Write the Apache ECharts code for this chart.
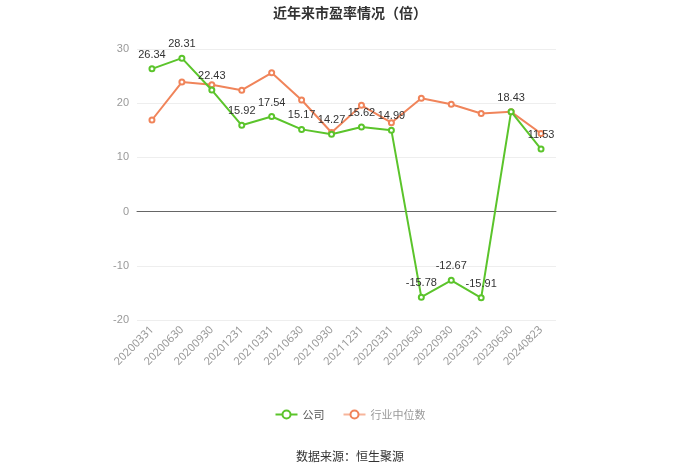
<!DOCTYPE html>
<html><head><meta charset="utf-8">
<script src="https://cdn.jsdelivr.net/npm/echarts@6/dist/echarts.min.js"></script>
<style>html,body{margin:0;padding:0;background:#fff}#c{width:700px;height:474px}</style>
</head><body><div id="c"></div>
<script>
var categories = ['20200331','20200630','20200930','20201231','20210331','20210630','20210930','20211231','20220331','20220630','20220930','20230331','20230630','20240823'];
var companyValues = [26.34,28.31,22.43,15.92,17.54,15.17,14.27,15.62,14.99,-15.78,-12.67,-15.91,18.43,11.53];
var industryValues = [16.9,23.9,23.4,22.4,25.6,20.6,14.6,19.6,16.4,20.9,19.8,18.1,18.4,14.4];
var yTicks = {min:-20, max:30, interval:10};

var chart = echarts.init(document.getElementById('c'));
chart.setOption({
  backgroundColor:'#fff',
  title:{text:'近年来市盈率情况（倍）', left:'center', top:1, textStyle:{fontSize:14, fontWeight:'bold', color:'#333', fontFamily:'Noto Sans CJK SC'}},
  grid:{left:137, right:144, top:49, bottom:154},
  legend:{bottom:49, left:'center', itemWidth:22, itemHeight:10, itemGap:18, textStyle:{fontSize:11, color:'#666', fontFamily:'Noto Sans CJK SC'},
    data:[{name:'公司', textStyle:{color:'#555'}},{name:'行业中位数', itemStyle:{borderColor:'#f7b59b'}, lineStyle:{color:'#f7b59b'}, textStyle:{color:'#999'}}]},
  xAxis:{type:'category', data:categories, boundaryGap:true,
    axisLine:{lineStyle:{color:'#666'}}, axisTick:{alignWithLabel:true, lineStyle:{color:'#666'}},
    axisLabel:{rotate:45, color:'#999', fontSize:11, interval:0, fontFamily:'Noto Sans'}},
  yAxis:{type:'value', min:yTicks.min, max:yTicks.max, interval:yTicks.interval,
    axisLine:{show:false}, axisTick:{show:false},
    axisLabel:{color:'#999', fontSize:11},
    splitLine:{lineStyle:{color:'#eee'}}},
  series:[
    {name:'公司', type:'line', data:companyValues, symbol:'emptyCircle', symbolSize:5, color:'#5bc42b',
      lineStyle:{width:2, color:'#5bc42b'}, itemStyle:{color:'#5bc42b'},
      label:{show:true, position:'top', color:'#333', fontSize:11, formatter:function(p){return p.value.toFixed(2);}} , z:3},
    {name:'行业中位数', type:'line', data:industryValues, symbol:'emptyCircle', symbolSize:5, color:'#f0845a',
      lineStyle:{width:2, color:'#f0845a'}, itemStyle:{color:'#f0845a'}, z:2}
  ],
  graphic:[{type:'text', left:'center', top:450, style:{text:'数据来源：恒生聚源', fontSize:12, fill:'#333', fontFamily:'Noto Sans CJK SC'}}]
});
</script></body></html>
